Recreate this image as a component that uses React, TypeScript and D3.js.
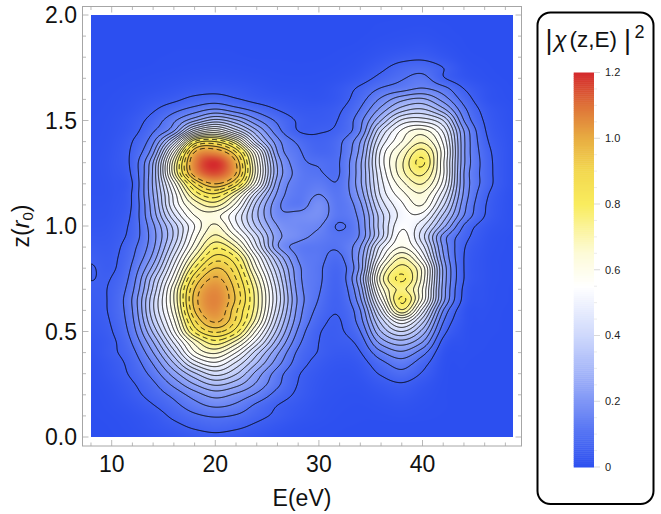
import React, { useMemo } from "react";
import * as d3 from "d3";

const energies = [8, 10, 12, 14, 16, 18, 20, 22, 24, 26, 28, 30, 32, 34, 36, 38, 40, 42, 44, 46, 48, 50];
const heights = d3.range(41).map((i) => i * 0.05);
// One row per z value (0.00, 0.05, ... 2.00), one entry per energy.
const density = [
  [0, .001, .005, .012, .02, .032, .04, .032, .02, .01, .005, .002, .001, 0, 0, 0, 0, 0, 0, 0, 0, 0],
  [0, .002, .008, .02, .037, .058, .07, .06, .04, .022, .01, .005, .002, .001, 0, 0, 0, 0, 0, 0, 0, 0],
  [.001, .004, .012, .028, .06, .09, .105, .095, .065, .04, .02, .01, .004, .002, .003, .005, .003, .001, 0, 0, 0, 0],
  [.001, .008, .022, .048, .085, .13, .16, .14, .09, .05, .028, .012, .006, .004, .008, .012, .006, .002, 0, 0, 0, 0],
  [.002, .012, .035, .07, .115, .175, .22, .19, .14, .08, .04, .017, .008, .007, .016, .025, .012, .002, .001, 0, 0, 0],
  [.004, .017, .045, .09, .165, .25, .31, .27, .19, .11, .048, .02, .012, .012, .03, .045, .022, .003, .001, 0, 0, 0],
  [.006, .025, .06, .12, .225, .34, .42, .355, .23, .125, .055, .025, .014, .02, .055, .085, .045, .005, .001, 0, 0, 0],
  [.009, .03, .07, .155, .3, .47, .54, .44, .3, .17, .075, .035, .02, .03, .085, .125, .07, .008, .002, 0, 0, 0],
  [.014, .04, .085, .2, .38, .59, .66, .55, .37, .21, .09, .047, .03, .048, .14, .19, .12, .015, .004, .001, 0, 0],
  [.018, .04, .105, .25, .46, .67, .78, .68, .48, .27, .115, .05, .04, .07, .22, .28, .2, .035, .007, .002, 0, 0],
  [.025, .048, .125, .31, .54, .81, .91, .82, .58, .33, .14, .055, .045, .1, .3, .4, .28, .07, .01, .003, .001, 0],
  [.03, .055, .14, .36, .59, .89, 1.01, .89, .67, .38, .165, .07, .048, .13, .37, .54, .37, .105, .015, .004, .001, 0],
  [.035, .06, .15, .39, .63, .95, 1.055, .91, .71, .42, .18, .085, .056, .15, .46, .74, .48, .15, .02, .006, .001, 0],
  [.04, .06, .155, .39, .65, .97, 1.07, .94, .72, .44, .19, .097, .06, .19, .55, .81, .59, .22, .035, .009, .002, 0],
  [.044, .058, .14, .36, .64, .95, 1.055, .93, .71, .43, .18, .105, .065, .22, .62, .76, .6, .23, .04, .01, .002, 0],
  [.051, .052, .125, .33, .58, .89, 1.01, .9, .67, .4, .17, .11, .07, .25, .67, .81, .63, .24, .05, .012, .003, 0],
  [.053, .043, .11, .27, .52, .8, .95, .86, .61, .36, .165, .11, .075, .22, .62, .77, .63, .24, .05, .012, .003, 0],
  [.044, .04, .095, .22, .46, .71, .87, .8, .55, .3, .145, .115, .09, .22, .53, .7, .54, .21, .05, .012, .003, 0],
  [.035, .035, .085, .19, .4, .63, .79, .7, .46, .21, .13, .115, .11, .2, .47, .6, .47, .19, .055, .015, .004, .001],
  [.025, .03, .07, .18, .36, .58, .71, .6, .41, .22, .17, .135, .11, .16, .38, .57, .42, .18, .07, .02, .005, .001],
  [.018, .025, .065, .19, .37, .55, .66, .52, .34, .2, .17, .155, .095, .16, .38, .54, .46, .27, .095, .03, .01, .002],
  [.015, .02, .06, .22, .44, .6, .62, .5, .31, .17, .17, .18, .115, .17, .38, .52, .53, .34, .15, .05, .012, .003],
  [.012, .018, .055, .235, .5, .66, .72, .58, .33, .165, .12, .18, .115, .19, .42, .54, .6, .41, .17, .055, .013, .003],
  [.01, .015, .055, .25, .52, .76, .84, .69, .41, .19, .12, .15, .115, .22, .46, .58, .64, .47, .19, .065, .015, .004],
  [.008, .015, .05, .26, .58, .88, 1.0, .88, .56, .22, .125, .125, .108, .24, .48, .63, .7, .53, .2, .08, .02, .004],
  [.008, .018, .06, .26, .68, 1.04, 1.15, 1.0, .62, .25, .13, .105, .1, .24, .5, .68, .76, .56, .2, .08, .02, .004],
  [.008, .02, .065, .25, .68, 1.07, 1.19, 1.0, .61, .24, .12, .095, .1, .24, .52, .69, .81, .56, .21, .08, .02, .004],
  [.007, .018, .06, .19, .58, 1.0, 1.05, .9, .55, .2, .11, .07, .095, .22, .51, .66, .77, .57, .21, .075, .02, .004],
  [.006, .015, .05, .14, .4, .8, .85, .7, .37, .17, .09, .06, .09, .2, .46, .6, .69, .54, .21, .065, .018, .004],
  [.005, .012, .035, .095, .2, .47, .56, .43, .26, .12, .05, .047, .065, .15, .4, .56, .62, .49, .2, .055, .015, .003],
  [.004, .01, .028, .07, .14, .24, .32, .26, .16, .09, .045, .035, .055, .135, .3, .46, .48, .4, .15, .045, .012, .003],
  [.003, .007, .018, .045, .085, .125, .16, .125, .085, .05, .03, .028, .045, .105, .22, .33, .36, .27, .115, .035, .01, .002],
  [.002, .005, .012, .025, .04, .065, .075, .055, .035, .025, .018, .015, .03, .08, .16, .235, .26, .18, .08, .02, .005, .001],
  [.001, .003, .007, .012, .02, .03, .035, .03, .02, .012, .01, .01, .025, .06, .105, .13, .155, .12, .05, .015, .003, .001],
  [0, .001, .003, .006, .01, .014, .016, .014, .01, .006, .005, .006, .012, .03, .065, .095, .115, .055, .02, .006, .001, 0],
  [0, 0, .001, .002, .004, .006, .007, .006, .004, .003, .002, .003, .006, .015, .04, .07, .08, .05, .012, .003, 0, 0],
  [0, 0, 0, .001, .002, .003, .003, .002, .001, .001, .001, .001, .003, .008, .02, .035, .04, .022, .005, .001, 0, 0],
  [0, 0, 0, 0, .001, .001, .001, .001, 0, 0, 0, 0, .001, .003, .01, .015, .02, .01, .002, 0, 0, 0],
  [0, 0, 0, 0, 0, 0, 0, 0, 0, 0, 0, 0, 0, .001, .004, .007, .009, .004, .001, 0, 0, 0],
  [0, 0, 0, 0, 0, 0, 0, 0, 0, 0, 0, 0, 0, 0, .002, .003, .004, .002, 0, 0, 0, 0],
  [0, 0, 0, 0, 0, 0, 0, 0, 0, 0, 0, 0, 0, 0, 0, .001, .001, 0, 0, 0, 0, 0],
];
const solidLevels = [.05, .1, .15, .2, .25, .3, .35, .4, .45, .5, .55, .6, .65, .7, .75, .85, .95];
const dashedLevels = [.8, .9, 1.0];
const xMajor = [10, 20, 30, 40];
const yMajor = [0, 0.5, 1, 1.5, 2];
const barMajor = [0, 0.2, 0.4, 0.6, 0.8, 1.0, 1.2];
const barLabels = ["0", "0.2", "0.4", "0.6", "0.8", "1.0", "1.2"];
const colorValues = [0, 0.1, 0.2, 0.3, 0.4, 0.55, 0.65, 0.8, 0.9, 1.0, 1.1, 1.2];
const colorStops = ["#2c4ff0", "#5271f3", "#7f96f6", "#a9b9f9", "#ced8fc", "#ffffff", "#fdfbd8", "#f9ec5e", "#f3d84f", "#e8ad42", "#de7238", "#d4282c"];

const font = "'Liberation Sans', Arial, sans-serif";
const imgL = 91, imgR = 513, imgT = 15, imgB = 437;
const frame = { l: 82.5, r: 521.5, t: 6.5, b: 446 };
const x = d3.scaleLinear().domain([10, 40]).range([111.7, 422.5]);
const y = d3.scaleLinear().domain([0, 2]).range([437, 15]);
const barY = d3.scaleLinear().domain([0, 1.2]).range([467, 72.5]);
const color = d3.scaleLinear<string>().domain(colorValues).range(colorStops).clamp(true);

function cr(p0: number, p1: number, p2: number, p3: number, t: number) {
  return 0.5 * (2 * p1 + (p2 - p0) * t + (2 * p0 - 5 * p1 + 4 * p2 - p3) * t * t + (3 * p1 - p0 - 3 * p2 + p3) * t * t * t);
}
function sample(e: number, z: number) {
  const fx = Math.max(0, Math.min(energies.length - 1.001, (e - energies[0]) / 2));
  const fy = Math.max(0, Math.min(heights.length - 1.001, z / 0.05));
  const i = Math.floor(fx), j = Math.floor(fy);
  const row = (r: number) => {
    const a = density[Math.max(0, Math.min(heights.length - 1, r))];
    const at = (k: number) => a[Math.max(0, Math.min(energies.length - 1, k))];
    return cr(at(i - 1), at(i), at(i + 1), at(i + 2), fx - i);
  };
  return Math.max(0, cr(row(j - 1), row(j), row(j + 1), row(j + 2), fy - j));
}

export default function App() {
  const n = imgR - imgL, m = imgB - imgT;
  const { values, href } = useMemo(() => {
    const values = new Float64Array(n * m);
    for (let r = 0; r < m; r++) for (let c = 0; c < n; c++) {
      values[r * n + c] = sample(x.invert(imgL + c + 0.5), y.invert(imgT + r + 0.5));
    }
    const cv = document.createElement("canvas");
    cv.width = n; cv.height = m;
    const ctx = cv.getContext("2d")!;
    const im = ctx.createImageData(n, m);
    for (let k = 0; k < n * m; k++) {
      const c = d3.rgb(color(values[k]));
      im.data[k * 4] = c.r; im.data[k * 4 + 1] = c.g; im.data[k * 4 + 2] = c.b; im.data[k * 4 + 3] = 255;
    }
    ctx.putImageData(im, 0, 0);
    return { values, href: cv.toDataURL() };
  }, []);
  const path = d3.geoPath(d3.geoTransform({
    point(px: number, py: number) { (this as any).stream.point(px + imgL, py + imgT); },
  }));
  const gen = d3.contours().size([n, m]).smooth(true);
  const solid = gen.thresholds(solidLevels)(values as any);
  const dashed = gen.thresholds(dashedLevels)(values as any);
  const xMinor = d3.range(8, 50, 2).filter((d) => !xMajor.includes(d));
  const yMinor = d3.range(0, 2.01, 0.1).filter((d) => !yMajor.some((v) => Math.abs(v - d) < 1e-6));
  const barMinor = d3.range(0, 1.201, 0.05).filter((d) => !barMajor.some((v) => Math.abs(v - d) < 1e-6));
  const strips = d3.range(0, 200);
  const tick = "#a6a6a6";

  return (
    <svg width={661} height={514} style={{ position: "absolute", left: 0, top: 0, background: "#fff" }} fontFamily={font}>
      <defs>
        <clipPath id="plot"><rect x={imgL} y={imgT} width={n} height={m} /></clipPath>
      </defs>
      <image href={href} x={imgL} y={imgT} width={n} height={m} preserveAspectRatio="none" />
      <g clipPath="url(#plot)" fill="none" stroke="#000" strokeOpacity={0.9} strokeWidth={1} strokeLinejoin="round">
        {solid.map((c, i) => <path key={i} d={path(c as any) ?? ""} />)}
        {dashed.map((c, i) => <path key={i} d={path(c as any) ?? ""} strokeDasharray="5 3.5" />)}
      </g>
      <rect x={frame.l} y={frame.t} width={frame.r - frame.l} height={frame.b - frame.t} fill="none" stroke={tick} strokeWidth={1} />
      <g stroke={tick} strokeWidth={0.8}>
        {xMajor.map((d) => <g key={d}>
          <line x1={x(d)} x2={x(d)} y1={frame.b} y2={frame.b - 6} />
          <line x1={x(d)} x2={x(d)} y1={frame.t} y2={frame.t + 6} />
        </g>)}
        {xMinor.map((d) => <g key={d}>
          <line x1={x(d)} x2={x(d)} y1={frame.b} y2={frame.b - 3.5} />
          <line x1={x(d)} x2={x(d)} y1={frame.t} y2={frame.t + 3.5} />
        </g>)}
        {yMajor.map((d) => <g key={d}>
          <line y1={y(d)} y2={y(d)} x1={frame.l} x2={frame.l + 6} />
          <line y1={y(d)} y2={y(d)} x1={frame.r} x2={frame.r - 6} />
        </g>)}
        {yMinor.map((d) => <g key={d}>
          <line y1={y(d)} y2={y(d)} x1={frame.l} x2={frame.l + 3.5} />
          <line y1={y(d)} y2={y(d)} x1={frame.r} x2={frame.r - 3.5} />
        </g>)}
      </g>
      <g fontSize={23} fill="#111">
        {xMajor.map((d) => <text key={d} x={x(d)} y={472} textAnchor="middle">{d}</text>)}
        {yMajor.map((d) => <text key={d} x={77} y={y(d) + 8} textAnchor="end">{d.toFixed(1)}</text>)}
        <text x={302} y={506} textAnchor="middle">E(eV)</text>
        <text transform="translate(29,226) rotate(-90)" textAnchor="middle">z(<tspan fontStyle="italic">r</tspan><tspan fontSize={15} dy={4}>0</tspan><tspan dy={-4}>)</tspan></text>
      </g>
      <rect x={537.5} y={12.5} width={116} height={491.5} rx={13} fill="#fff" stroke="#000" strokeWidth={2} />
      <g fill="#111">
        <text x={545.5} y={49} fontSize={27}>|</text>
        <text x={554} y={47} fontSize={23} fontStyle="italic">χ</text>
        <text x={569.5} y={47} fontSize={22.5}>(z,E)</text>
        <text x={624} y={49} fontSize={27}>|</text>
        <text x={634.5} y={38} fontSize={18}>2</text>
      </g>
      {strips.map((s) => {
        const v0 = (s / 200) * 1.2, v1 = ((s + 1) / 200) * 1.2;
        return <rect key={s} x={573.7} width={20.3} y={barY(v1)} height={barY(v0) - barY(v1) + 0.5} fill={color((v0 + v1) / 2)} />;
      })}
      <g stroke="#cfcfcf" strokeWidth={0.8}>
        {barMajor.map((d) => <line key={d} x1={594} x2={600} y1={barY(d)} y2={barY(d)} />)}
        {barMinor.map((d) => <line key={d} x1={594} x2={597} y1={barY(d)} y2={barY(d)} stroke="#e6e6e6" />)}
      </g>
      <g fontSize={11} fill="#222">
        {barMajor.map((d, i) => <text key={d} x={605} y={barY(d) + 3.8}>{barLabels[i]}</text>)}
      </g>
    </svg>
  );
}
